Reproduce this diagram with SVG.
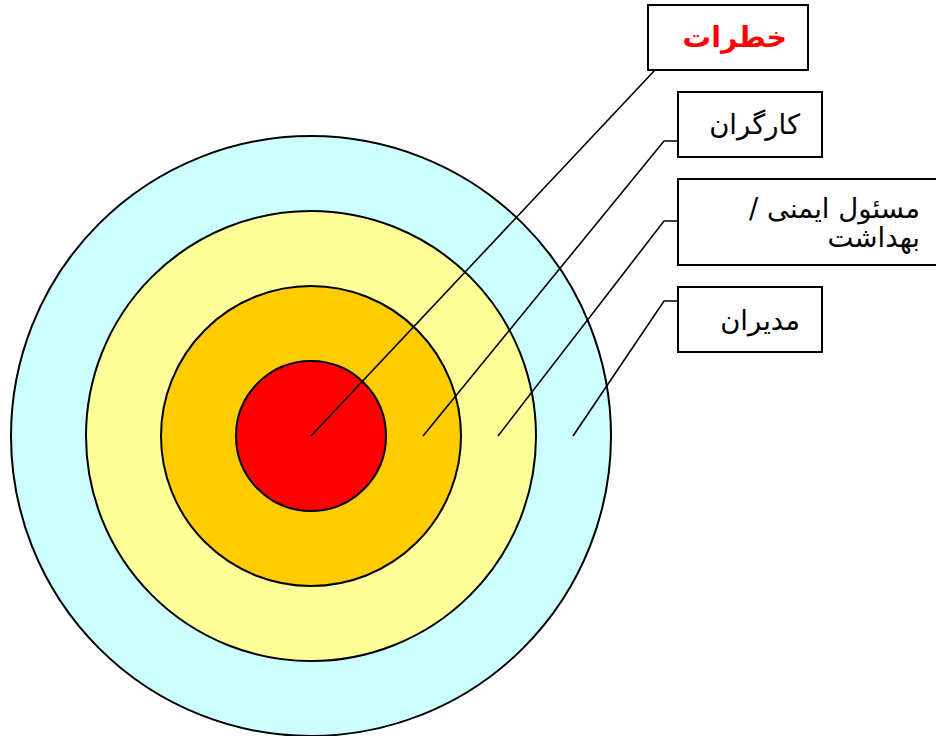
<svg xmlns="http://www.w3.org/2000/svg" width="936" height="736" viewBox="0 0 936 736">
<style>
.ring{stroke:#000;stroke-width:2}
.box{fill:#fff;stroke:#000;stroke-width:2}
.lbl{font-family:"DejaVu Sans","Noto Sans",sans-serif;font-size:27.5px;fill:#000}
.con{fill:none;stroke:#000;stroke-width:1.6}
</style>
<rect width="936" height="736" fill="#fff"/>
<g id="rings">
<circle class="ring" cx="311" cy="436" r="300" fill="#ccffff"/>
<circle class="ring" cx="311" cy="436" r="225" fill="#ffff99"/>
<circle class="ring" cx="311" cy="436" r="150" fill="#ffcc00"/>
<circle class="ring" cx="311" cy="436" r="75" fill="#ff0000"/>
</g>
<g id="connectors">
<polyline class="con" points="311,436 655,70"/>
<polyline class="con" points="423,436 664,141 678,141"/>
<polyline class="con" points="498,436 664,221 678,221"/>
<polyline class="con" points="573,436 664,301 678,301"/>
</g>
<g id="node-hazards">
<rect class="box" x="648" y="5" width="160" height="65"/>
<text class="lbl" x="787" y="47" direction="rtl" text-anchor="start" style="fill:#ff0000;font-weight:bold;font-size:28.5px">خطرات</text>
</g>
<g id="node-workers">
<rect class="box" x="678" y="92" width="144" height="65"/>
<text class="lbl" x="800" y="134" direction="rtl" text-anchor="start">کارگران</text>
</g>
<g id="node-safety">
<rect class="box" x="678" y="179" width="270" height="86"/>
<text class="lbl" x="920" y="218" direction="rtl" text-anchor="start">مسئول ایمنی /</text>
<text class="lbl" x="920" y="247" direction="rtl" text-anchor="start">بهداشت</text>
</g>
<g id="node-managers">
<rect class="box" x="678" y="287" width="144" height="65"/>
<text class="lbl" x="800" y="330" direction="rtl" text-anchor="start">مدیران</text>
</g>
</svg>
